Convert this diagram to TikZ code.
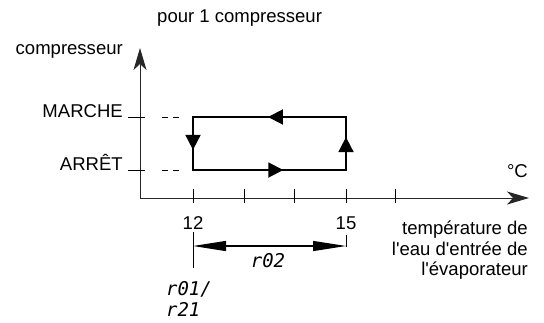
\documentclass[tikz,border=0pt]{standalone}
\usepackage{fontspec}
\setmainfont{Liberation Sans}
\newfontfamily\segfont{DejaVu Sans Mono}
\usetikzlibrary{arrows.meta,decorations.markings}
\tikzset{
  lbl/.style={inner sep=0pt,font=\fontsize{18.6}{20.5}\selectfont},
  seglbl/.style={inner sep=0pt,font=\fontsize{19}{21}\selectfont\segfont\itshape},
  axisarr/.style={-{Stealth[length=22bp,width=13bp,inset=6bp]},line width=1bp,color=black!85},
  cyc/.style={line width=1.9bp,line cap=rect,postaction={decorate},
              decoration={markings,mark=at position #1 with
              {\arrow{Triangle[length=15bp,width=15bp]}}}},
  dimarr/.style={{Triangle[length=33bp,width=10bp]}-{Triangle[length=33bp,width=10bp]},
                 line width=1.2bp},
  guide/.style={line width=0.9bp},
  dashline/.style={line width=0.9bp,dash pattern=on 6bp off 5bp}
}
\begin{document}
\begin{tikzpicture}[x=1bp,y=-1bp]
  \useasboundingbox (0,0) rectangle (544,322);

  \coordinate (o) at (140,198);
  \coordinate (ytop) at (140,48);
  \coordinate (xend) at (529,198);
  \coordinate (on1) at (193,117);
  \coordinate (on2) at (346,117);
  \coordinate (off1) at (193,170);
  \coordinate (off2) at (346,170);

  \node[lbl,anchor=base west] (title) at (157,22) {pour 1 compresseur};
  \node[lbl,anchor=base east] (ylab) at (123,54) {compresseur};
  \node[lbl,anchor=base east] (marche) at (123,117) {MARCHE};
  \node[lbl,anchor=base east] (arret) at (123,170) {ARRÊT};
  \node[lbl,anchor=base east] (unit) at (528,177) {°C};
  \node[lbl,anchor=base] (n12) at (193,229) {12};
  \node[lbl,anchor=base] (n15) at (346,229) {15};
  \node[lbl,anchor=north east,align=right] (xlab) at (528,221)
      {température de\\l\textquotesingle eau d\textquotesingle entrée de\\l\textquotesingle évaporateur};
  \node[seglbl] (r02) at (268,261) {r02};
  \node[seglbl,anchor=north west,align=left] (r01) at (166,281) {r01/\\r21};

  \draw[axisarr] (o) -- (ytop);
  \draw[axisarr] (o) -- (xend);
  \foreach \tx in {193,244,294,346,395}
    \draw[guide] (\tx,189) -- (\tx,203);

  \draw[guide] ([xshift=5bp]marche.base east) -- ++(17,0);
  \draw[guide] ([xshift=5bp]arret.base east) -- ++(17,0);
  \draw[dashline] ([xshift=39bp]marche.base east) -- ++(17,0);
  \draw[dashline] ([xshift=39bp]arret.base east) -- ++(17,0);

  \draw[cyc=0.59] (off1) -- (off2);
  \draw[cyc=0.62] (off2) -- (on2);
  \draw[cyc=0.51] (on2) -- (on1);
  \draw[cyc=0.62] (on1) -- (off1);

  \draw[guide] ([yshift=-3bp]n12.south) -- ++(0,36);
  \draw[guide] ([yshift=-6bp]n15.south) -- ++(0,12);
  \coordinate (d1) at (193,246);
  \coordinate (d2) at (346,246);
  \draw[dimarr] (d1) -- (d2);
\end{tikzpicture}
\end{document}
